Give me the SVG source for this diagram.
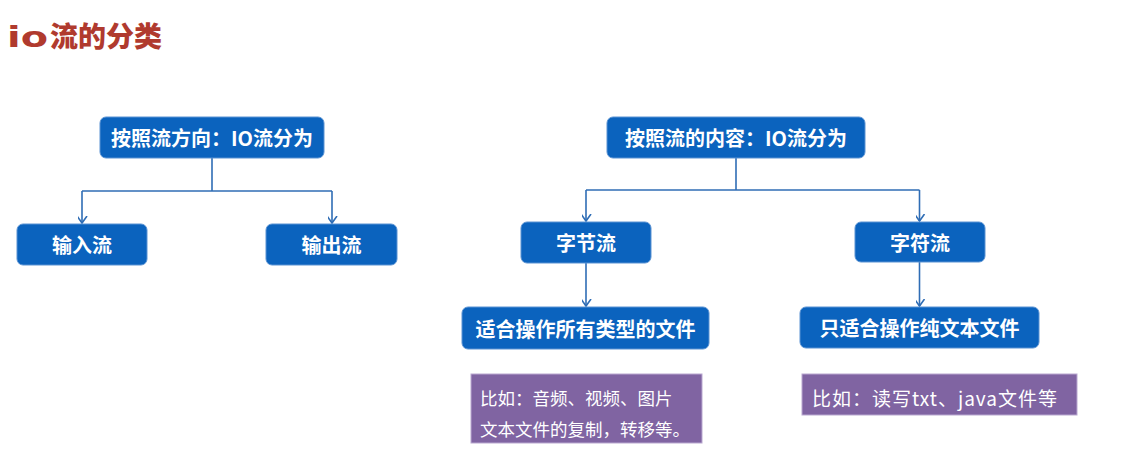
<svg xmlns="http://www.w3.org/2000/svg" width="1132" height="467" viewBox="0 0 1132 467">
<style>
.node rect{fill:#0b63be;stroke:#5b93d3;stroke-width:1}
.node text{fill:#ffffff;font-family:"Noto Sans CJK SC","Noto Sans",sans-serif;font-weight:700;font-size:20px;text-anchor:middle;dominant-baseline:central}
.note rect{fill:#8064a2;stroke:#b9a8d0;stroke-width:1}
.note text{fill:#ffffff;font-family:"Noto Sans CJK SC","Noto Sans",sans-serif;font-weight:400;font-size:17.5px;dominant-baseline:central}
.conn path{fill:none;stroke:#2f6db5;stroke-width:1.6}
.title{fill:#b03a2e;font-family:"Noto Sans CJK SC","Noto Sans",sans-serif;font-weight:900;font-size:28px}
</style>
<defs>
<marker id="arr" markerUnits="userSpaceOnUse" markerWidth="14" markerHeight="14" viewBox="-7 -10 14 14" refX="0" refY="0" orient="auto-start-reverse">
<path d="M-5,-7 L0,0 L5,-7" fill="none" stroke="#2f6db5" stroke-width="1.6" transform="rotate(-90)"/>
</marker>
</defs>
<rect width="1132" height="467" fill="#ffffff"/>
<g id="title">
<text class="title" x="7" y="47" textLength="41" lengthAdjust="spacingAndGlyphs" style="font-family:'DejaVu Sans',sans-serif;font-weight:700;font-size:29px">io</text>
<text class="title" x="50" y="47">流的分类</text>
</g>
<g class="conn">
<path d="M212 158 V191"/>
<path d="M82 191 H332"/>
<path d="M82 191 V223" marker-end="url(#arr)"/>
<path d="M332 191 V223" marker-end="url(#arr)"/>
<path d="M736 158 V190"/>
<path d="M586 190 H919.5"/>
<path d="M586 190 V221" marker-end="url(#arr)"/>
<path d="M919.5 190 V221" marker-end="url(#arr)"/>
<path d="M586 263 V306" marker-end="url(#arr)"/>
<path d="M919.5 262 V306" marker-end="url(#arr)"/>
</g>
<g id="n-dir" class="node"><rect x="100" y="117" width="224" height="41" rx="6"/><text x="212" y="137.5">按照流方向：IO流分为</text></g>
<g id="n-in" class="node"><rect x="17" y="224" width="130" height="41" rx="6"/><text x="82" y="244.5">输入流</text></g>
<g id="n-out" class="node"><rect x="266" y="224" width="131" height="41" rx="6"/><text x="331.5" y="244.5">输出流</text></g>
<g id="n-content" class="node"><rect x="607" y="117" width="258" height="41" rx="6"/><text x="736" y="137.5">按照流的内容：IO流分为</text></g>
<g id="n-byte" class="node"><rect x="521" y="222" width="130" height="41" rx="6"/><text x="586" y="242.5">字节流</text></g>
<g id="n-char" class="node"><rect x="855" y="222" width="130" height="40" rx="6"/><text x="920" y="242">字符流</text></g>
<g id="n-all" class="node"><rect x="462" y="307" width="247" height="42" rx="6"/><text x="585.5" y="328">适合操作所有类型的文件</text></g>
<g id="n-text" class="node"><rect x="800" y="307" width="239" height="41" rx="6"/><text x="919.5" y="327.5">只适合操作纯文本文件</text></g>
<g id="note-byte" class="note"><rect x="471" y="374" width="231" height="69"/><text x="480" y="397">比如：音频、视频、图片</text><text x="480" y="428">文本文件的复制，转移等。</text></g>
<g id="note-char" class="note"><rect x="802" y="374" width="275" height="41"/><text x="812" y="397" style="font-size:19px" textLength="245" lengthAdjust="spacing">比如：读写txt、java文件等</text></g>
</svg>
